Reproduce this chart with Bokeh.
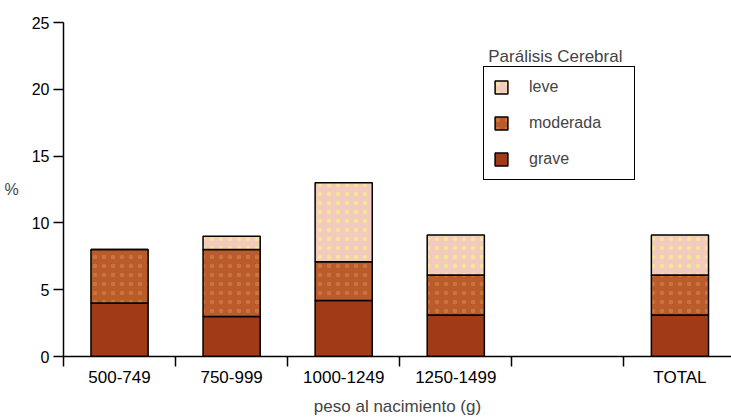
from bokeh.plotting import figure
from bokeh.models import (Range1d, FixedTicker, Legend, LegendItem, Label,
                          ColumnDataSource)
from bokeh.embed import file_html
from bokeh.resources import INLINE

# ---- data ----
categories = ["500-749", "750-999", "1000-1249", "1250-1499", "", "TOTAL"]
grave = [4.0, 3.0, 4.2, 3.1, 0.0, 3.1]
moderada = [4.0, 5.0, 2.9, 3.0, 0.0, 3.0]
leve = [0.0, 1.0, 5.9, 3.0, 0.0, 3.0]
series_names = ["grave", "moderada", "leve"]
y_ticks = [0, 5, 10, 15, 20, 25]
legend_title = "Parálisis Cerebral"

FONT = "Liberation Sans"

n = len(categories)
xc = [i + 0.5 for i in range(n)]
show = [i for i in range(n) if (grave[i] + moderada[i] + leve[i]) > 0]

src = ColumnDataSource(dict(
    x=[xc[i] for i in show],
    grave=[grave[i] for i in show],
    moderada=[moderada[i] for i in show],
    leve=[leve[i] for i in show],
))

p = figure(width=731, height=418, output_backend="svg", toolbar_location=None,
           x_range=Range1d(0, 5.96), y_range=Range1d(0, 25),
           min_border_left=63, min_border_right=0, min_border_top=22,
           min_border_bottom=62)
p.outline_line_color = None
p.grid.visible = False
p.background_fill_color = "white"
p.border_fill_color = "white"

colors = {"grave": "#A03A17", "moderada": "#B95B2B", "leve": "#F3CBBE"}
hatch = {"grave": (None, None), "moderada": ("dot", "#CD7A3E"),
         "leve": ("dot", "#F6EC8A")}

renderers = p.vbar_stack(series_names, x="x", width=0.51, source=src,
                         fill_color=[colors[s] for s in series_names],
                         line_color="black", line_width=1.5)
for r, s in zip(renderers, series_names):
    hp, hc = hatch[s]
    if hp:
        r.glyph.hatch_pattern = hp
        r.glyph.hatch_color = hc
        r.glyph.hatch_scale = 9
        r.glyph.hatch_weight = 3
        r.glyph.hatch_alpha = 0.8

# x axis
xa = p.xaxis[0]
xa.ticker = FixedTicker(ticks=xc, minor_ticks=list(range(n + 1)))
xa.major_label_overrides = {xc[i]: categories[i] for i in range(n)}
xa.major_tick_out = 0
xa.major_tick_in = 0
xa.minor_tick_out = 10
xa.minor_tick_in = 0
xa.minor_tick_line_color = "black"
xa.minor_tick_line_width = 1.5
xa.axis_line_width = 1.5
xa.major_label_standoff = 1
xa.major_label_text_font = FONT
xa.major_label_text_font_size = "17px"
xa.major_label_text_color = "black"
xa.axis_label = "peso al nacimiento (g)"
xa.axis_label_text_font = FONT
xa.axis_label_text_font_size = "17px"
xa.axis_label_text_font_style = "normal"
xa.axis_label_standoff = 7

# y axis
ya = p.yaxis[0]
ya.ticker = FixedTicker(ticks=y_ticks)
ya.minor_tick_line_color = None
ya.major_tick_out = 10
ya.major_tick_in = 0
ya.major_tick_line_width = 1.5
ya.axis_line_width = 1.5
ya.major_label_standoff = 4
ya.major_label_text_font = FONT
ya.major_label_text_font_size = "16px"
ya.major_label_text_color = "black"
ya.axis_label = "%"
ya.axis_label_orientation = "horizontal"
ya.axis_label_text_font = FONT
ya.axis_label_text_font_size = "16px"
ya.axis_label_text_font_style = "normal"
ya.axis_label_standoff = 10

# legend
items = [LegendItem(label=s, renderers=[r]) for s, r in
         reversed(list(zip(series_names, renderers)))]
legend = Legend(items=items, location=(420, 176), orientation="vertical",
                border_line_color="black", border_line_width=1.5,
                border_line_alpha=1.0,
                background_fill_alpha=1.0, padding=9, spacing=14,
                glyph_width=16, glyph_height=16, label_height=22,
                label_width=96, label_standoff=20,
                label_text_font=FONT, label_text_font_size="16px", margin=0)
p.add_layout(legend, "center")

title = Label(x=3.79, y=22.45, text=legend_title, text_font=FONT,
              text_font_size="17px", text_baseline="middle", text_align="left")
p.add_layout(title)

open("out.html", "w").write(file_html(p, INLINE))
